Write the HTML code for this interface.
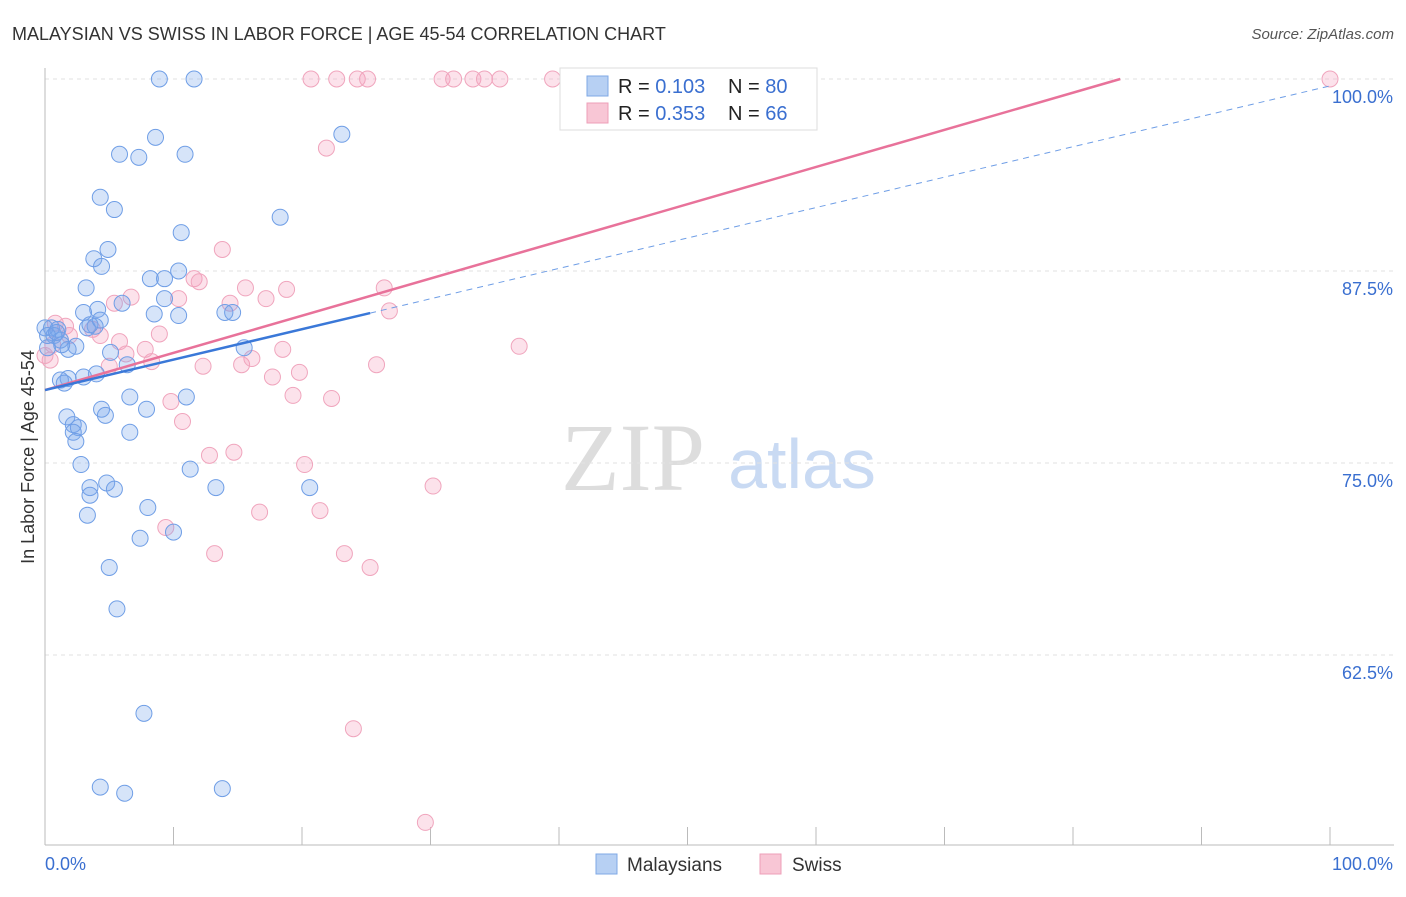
<!DOCTYPE html>
<html><head><meta charset="utf-8"><style>
body{margin:0;background:#fff;font-family:"Liberation Sans",sans-serif;}
svg text{font-family:"Liberation Sans",sans-serif;}
</style></head><body>
<svg id="chart" width="1406" height="892" xmlns="http://www.w3.org/2000/svg">
<text x="12" y="40" font-size="18" fill="#333">MALAYSIAN VS SWISS IN LABOR FORCE | AGE 45-54 CORRELATION CHART</text>
<text x="1394" y="39" font-size="15" fill="#555" font-style="italic" text-anchor="end">Source: ZipAtlas.com</text>
<text x="34" y="457" font-size="18" fill="#333" text-anchor="middle" transform="rotate(-90 34 457)">In Labor Force | Age 45-54</text>
<g>
<text x="633" y="490" font-size="96" fill="#ddd" font-family="Liberation Serif" text-anchor="middle" style="font-family:'Liberation Serif',serif">ZIP</text>
<text x="802" y="488" font-size="70" fill="#c9daf3" text-anchor="middle">atlas</text>
</g>
<g id="grid"></g><g id="axes"></g><g id="marks"></g>
<g>
<rect x="560" y="68" width="257" height="62" fill="#fff" stroke="#ddd"/>
<rect x="587" y="76" width="21" height="20" fill="#b7d0f3" stroke="#7fa8e6"/>
<rect x="587" y="103" width="21" height="20" fill="#f8c6d5" stroke="#ee9fb8"/>
<text x="618" y="93" font-size="20" fill="#222">R = <tspan fill="#3a6fd0">0.103</tspan></text>
<text x="728" y="93" font-size="20" fill="#222">N = <tspan fill="#3a6fd0">80</tspan></text>
<text x="618" y="120" font-size="20" fill="#222">R = <tspan fill="#3a6fd0">0.353</tspan></text>
<text x="728" y="120" font-size="20" fill="#222">N = <tspan fill="#3a6fd0">66</tspan></text>
</g>
<g>
<rect x="596" y="854" width="21" height="20" fill="#b7d0f3" stroke="#7fa8e6"/>
<text x="627" y="871" font-size="19" fill="#333">Malaysians</text>
<rect x="760" y="854" width="21" height="20" fill="#f8c6d5" stroke="#ee9fb8"/>
<text x="792" y="871" font-size="19" fill="#333">Swiss</text>
</g>
</svg>
<script>
const blueX=[8.9,11.6,23.1,8.6,5.8,7.3,10.9,4.3,5.4,18.3,10.6,4.9,3.8,4.4,10.4,8.2,9.3,3.2,9.3,6.0,4.1,3.0,8.5,10.4,14.0,14.6,0.5,1.0,3.3,3.9,0.7,1.2,2.4,1.8,0.2,5.1,15.5,6.4,4.0,3.0,1.8,1.2,1.5,6.6,11.0,4.4,4.7,7.9,1.7,2.2,2.6,2.2,2.4,6.6,2.8,11.3,3.5,3.5,4.8,5.4,13.3,20.6,8.0,3.3,7.4,10.0,5.0,5.6,7.7,4.3,6.2,13.8,0.0,0.2,0.9,1.3,3.5,4.3];
const blueY=[100,100,96.4,96.2,95.1,94.9,95.1,92.3,91.5,91.0,90.0,88.9,88.3,87.8,87.5,87.0,87.0,86.4,85.7,85.4,85.0,84.8,84.7,84.6,84.8,84.8,83.8,83.7,83.8,83.9,83.3,83.0,82.6,82.4,82.5,82.2,82.5,81.4,80.8,80.6,80.5,80.4,80.2,79.3,79.3,78.5,78.1,78.5,78.0,77.5,77.3,77.0,76.4,77.0,74.9,74.6,73.4,72.9,73.7,73.3,73.4,73.4,72.1,71.6,70.1,70.5,68.2,65.5,58.7,53.9,53.5,53.8,83.8,83.3,83.5,82.7,84.0,84.3];
const pinkX=[20.7,22.7,24.3,25.1,30.9,31.8,33.3,34.2,35.4,39.5,41.5,47.2,100,21.9,13.8,11.6,12.0,15.6,18.8,17.2,10.4,14.4,5.4,6.7,26.4,26.8,0.8,1.6,1.9,3.7,8.9,5.8,7.8,6.3,5.0,8.3,12.3,15.3,16.1,18.5,36.9,25.8,17.7,19.8,19.3,22.3,9.8,10.7,12.8,14.7,20.2,30.2,16.7,21.4,9.4,13.2,23.3,25.3,24.0,29.6,0.4,0.0,4.3,0.6];
const pinkY=[100,100,100,100,100,100,100,100,100,100,100,100,100,95.5,88.9,87.0,86.8,86.4,86.3,85.7,85.7,85.4,85.4,85.8,86.4,84.9,84.1,83.9,83.3,83.7,83.4,82.9,82.4,82.1,81.3,81.6,81.3,81.4,81.8,82.4,82.6,81.4,80.6,80.9,79.4,79.2,79.0,77.7,75.5,75.7,74.9,73.5,71.8,71.9,70.8,69.1,69.1,68.2,57.7,51.6,81.7,82.0,83.3,82.7];
const yTicks=[100,87.5,75,62.5];
const yTickLabels=["100.0%","87.5%","75.0%","62.5%"];
const xTickLabels=["0.0%","100.0%"];
const blueTrend=[79.75,0.198]; // intercept, slope
const pinkTrend=[79.75,0.242];
const NS="http://www.w3.org/2000/svg";
const xs=v=>45+v*12.85, ys=v=>79+(100-v)*15.36;
function mk(tag,attrs,parent){const e=document.createElementNS(NS,tag);for(const k in attrs)e.setAttribute(k,attrs[k]);parent.appendChild(e);return e;}
const grid=document.getElementById('grid'),axes=document.getElementById('axes'),marks=document.getElementById('marks');
yTicks.forEach((t,i)=>{
 const l=mk('line',{x1:45,x2:1394,y1:ys(t),y2:ys(t),stroke:'#e2e2e2','stroke-dasharray':'4,4'},grid);
 
 
 const tx=mk('text',{x:1393,y:ys(t)+24,'font-size':18,fill:'#3a6fd0','text-anchor':'end'},axes);
 tx.textContent=yTickLabels[i];
 
 
});
const xa=mk('line',{x1:45,x2:1394,y1:845,y2:845,stroke:'#bbb'},axes);


const ya=mk('line',{x1:45,x2:45,y1:68,y2:845,stroke:'#bbb'},axes);


for(let i=0;i<=10;i++){const t=mk('line',{x1:xs(i*10),x2:xs(i*10),y1:827,y2:845,stroke:'#bbb'},axes);
 
 }
const xl0=mk('text',{x:45,y:870,'font-size':18,fill:'#3a6fd0'},axes);xl0.textContent=xTickLabels[0];


const xl1=mk('text',{x:1393,y:870,'font-size':18,fill:'#3a6fd0','text-anchor':'end'},axes);xl1.textContent=xTickLabels[1];


pinkX.forEach((x,i)=>{const c=mk('circle',{cx:xs(x),cy:ys(pinkY[i]),r:8,fill:'rgba(244,160,188,0.3)',stroke:'#f0a5bd','stroke-width':1},marks);
 
 });
blueX.forEach((x,i)=>{const c=mk('circle',{cx:xs(x),cy:ys(blueY[i]),r:8,fill:'rgba(120,165,235,0.3)',stroke:'#6f9ee6','stroke-width':1},marks);
 
 });
const bEnd=25.3, pEnd=(100-pinkTrend[0])/pinkTrend[1];
const bd=mk('line',{x1:xs(bEnd),y1:ys(blueTrend[0]+blueTrend[1]*bEnd),x2:xs(100),y2:ys(blueTrend[0]+blueTrend[1]*100),stroke:'#6f9ee6','stroke-width':1,'stroke-dasharray':'6,5'},marks);


const pl=mk('line',{x1:xs(0),y1:ys(pinkTrend[0]),x2:xs(pEnd),y2:ys(100),stroke:'#e8729a','stroke-width':2.5},marks);


const bl=mk('line',{x1:xs(0),y1:ys(blueTrend[0]),x2:xs(bEnd),y2:ys(blueTrend[0]+blueTrend[1]*bEnd),stroke:'#3a78d8','stroke-width':2.5},marks);


</script>
</body></html>
